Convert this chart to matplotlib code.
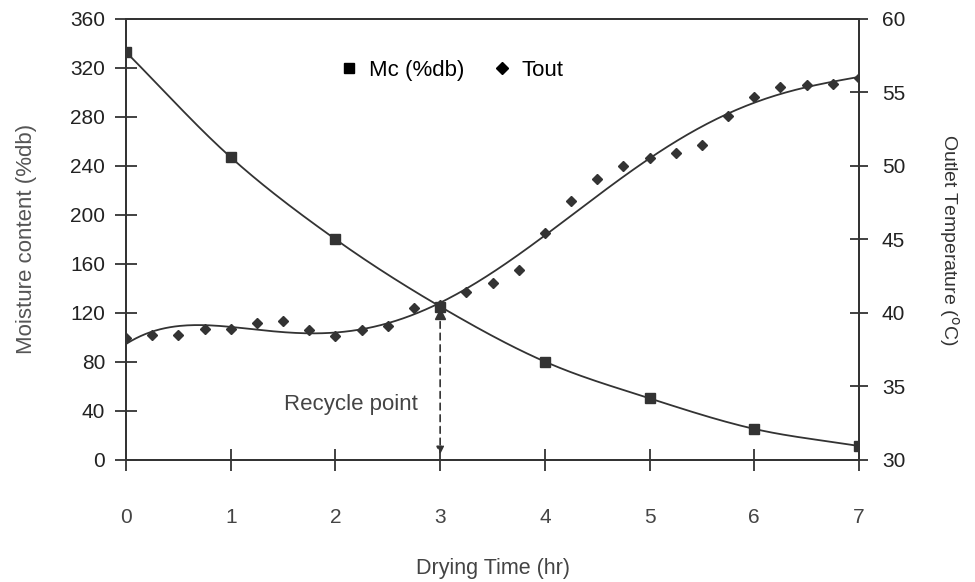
import numpy as np
import matplotlib.pyplot as plt
from matplotlib.lines import Line2D

# ----------------------------
# Data
# ----------------------------
mc_time = [0, 1, 2, 3, 4, 5, 6, 7]
mc_values = [333, 247, 180, 125, 80, 50, 25, 11]

t_time = [0, 0.25, 0.5, 0.75, 1.0, 1.25, 1.5, 1.75, 2.0, 2.25, 2.5, 2.75,
          3.0, 3.25, 3.5, 3.75, 4.0, 4.25, 4.5, 4.75, 5.0, 5.25, 5.5, 5.75,
          6.0, 6.25, 6.5, 6.75, 7.0]
t_values = [38.3, 38.5, 38.5, 38.9, 38.9, 39.3, 39.4, 38.8, 38.4, 38.8, 39.1, 40.3,
            40.5, 41.4, 42.0, 42.9, 45.4, 47.6, 49.1, 50.0, 50.5, 50.9, 51.4, 53.4,
            54.7, 55.35, 55.5, 55.6, 56.0]

recycle_time = 3
recycle_mc = 119

x_ticks = [0, 1, 2, 3, 4, 5, 6, 7]
left_ticks = list(range(0, 361, 40))
right_ticks = [30, 35, 40, 45, 50, 55, 60]

INK = "#333333"


def catmull_rom(xs, ys, n=30):
    xs = np.asarray(xs, float)
    ys = np.asarray(ys, float)
    px = np.concatenate([[2 * xs[0] - xs[1]], xs, [2 * xs[-1] - xs[-2]]])
    py = np.concatenate([[2 * ys[0] - ys[1]], ys, [2 * ys[-1] - ys[-2]]])
    out_x, out_y = [], []
    for i in range(1, len(px) - 2):
        s = np.linspace(0, 1, n)
        for arr, out in ((px, out_x), (py, out_y)):
            p0, p1, p2, p3 = arr[i - 1], arr[i], arr[i + 1], arr[i + 2]
            out.extend(0.5 * (2 * p1 + (-p0 + p2) * s
                              + (2 * p0 - 5 * p1 + 4 * p2 - p3) * s ** 2
                              + (-p0 + 3 * p1 - 3 * p2 + p3) * s ** 3))
    return np.array(out_x), np.array(out_y)


plt.rcParams['font.family'] = ['Liberation Sans', 'DejaVu Sans']

fig = plt.figure(figsize=(9.75, 5.82), dpi=100)
ax = fig.add_axes([126 / 975, 1 - 459.5 / 582, 733 / 975, 440.5 / 582])
ax2 = ax.twinx()

# moisture curve
cx, cy = catmull_rom(mc_time, mc_values)
ax.plot(cx, cy, color=INK, lw=1.3)
ax.plot(mc_time, mc_values, ls="none", marker="s", ms=7.5, color=INK)

# temperature trend + points
coef = np.polyfit(t_time, t_values, 5)
tx = np.linspace(0, 7, 300)
ax2.plot(tx, np.polyval(coef, tx), color=INK, lw=1.3)
ax2.plot(t_time, t_values, ls="none", marker="D", ms=5.5, color=INK)

# recycle point
ax.plot([recycle_time], [recycle_mc], marker="^", ms=7, color=INK, ls="none")
ax.annotate("", xy=(recycle_time, 2), xytext=(recycle_time, recycle_mc - 4),
            arrowprops=dict(arrowstyle="-|>", ls=(0, (4, 3)), color=INK, lw=1.2,
                            mutation_scale=11))
ax.text(2.15, 45, "Recycle point", ha="center", va="center", fontsize=16, color="#444444")

ax.set_xlim(0, 7)
ax.set_ylim(0, 360)
ax2.set_ylim(30, 60)
ax.set_xticks(x_ticks)
ax.set_yticks(left_ticks)
ax2.set_yticks(right_ticks)

for a in (ax, ax2):
    for side in a.spines.values():
        side.set_color(INK)
        side.set_linewidth(1.3)
ax.tick_params(axis="x", direction="inout", length=16, width=1.3, pad=27,
               colors=INK, labelsize=15, labelcolor="#444444")
ax.tick_params(axis="y", direction="inout", length=16, width=1.3, pad=7,
               colors=INK, labelsize=15, labelcolor="#222222")
ax2.tick_params(axis="y", direction="inout", length=13, width=1.3, pad=10,
                colors=INK, labelsize=15, labelcolor="#222222")

ax.set_xlabel("Drying Time (hr)", fontsize=15.5, color="#444444", labelpad=22)
ax.set_ylabel("Moisture content (%db)", fontsize=16, color="#555555", labelpad=24)
ax2.set_ylabel("Outlet Temperature ($^{\\rm o}$C)", fontsize=14, color="#333333",
               rotation=270, labelpad=40)

handles = [Line2D([], [], ls="none", marker="s", ms=7, color="black"),
           Line2D([], [], ls="none", marker="D", ms=6, color="black")]
ax.legend(handles, ["Mc (%db)", "Tout"], loc="center", bbox_to_anchor=(0.443, 0.884),
          ncol=2, frameon=False, fontsize=16, handletextpad=0.4, columnspacing=1.2,
          handlelength=1.0)

fig.savefig("out.png", dpi=100)
